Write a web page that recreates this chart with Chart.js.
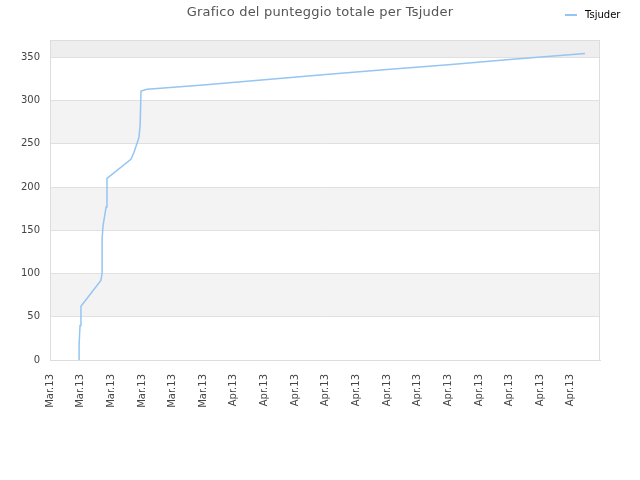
<!DOCTYPE html>
<html>
<head>
<meta charset="utf-8">
<script src="https://cdn.jsdelivr.net/npm/chart.js@4/dist/chart.umd.min.js"></script>
<style>
  body { margin: 0; background: #fff; }
  #wrap { position: relative; width: 640px; height: 480px; font-family: "DejaVu Sans", sans-serif; }
  #title { position: absolute; left: 0; top: 4px; width: 640px; text-align: center; font-size: 13px; color: #555; letter-spacing: 0.2px; }
  #legend { position: absolute; left: 565px; top: 9px; font-size: 10px; color: #000; }
  #legend span.sw { display: inline-block; width: 12px; height: 2px; background: #95c5f3; vertical-align: middle; margin-right: 8px; }
</style>
</head>
<body>
<div id="wrap">
  <canvas id="chart" width="640" height="480"></canvas>
  <div id="title">Grafico del punteggio totale per Tsjuder</div>
  <div id="legend"><span class="sw"></span>Tsjuder</div>
</div>
<script>
// tick labels along the date axis
var xLabels = ['Mar.13', 'Mar.13', 'Mar.13', 'Mar.13', 'Mar.13', 'Mar.13',
               'Apr.13', 'Apr.13', 'Apr.13', 'Apr.13', 'Apr.13', 'Apr.13',
               'Apr.13', 'Apr.13', 'Apr.13', 'Apr.13', 'Apr.13', 'Apr.13'];
var seriesName = 'Tsjuder';
// position of each point along the date axis (in tick steps) and total score
var pointPos = [0.95, 0.95, 0.98, 1.01, 1.66, 1.70, 1.70, 1.73, 1.80, 1.83, 1.86,
                2.64, 2.74, 2.90, 2.94, 2.97, 3.17, 5, 7, 9, 11, 13, 15, 17.46];
var scores   = [0, 18, 40, 62, 92, 100, 140, 155, 170, 177, 210,
                232, 240, 257, 270, 311, 313, 318, 324, 330, 336, 341.5, 347.5, 354.5];

var points = pointPos.map(function (p, i) { return { x: p, y: scores[i] }; });

var bands = {
    id: 'bands',
    beforeDraw: function (chart) {
        var ctx = chart.ctx, a = chart.chartArea, y = chart.scales.y;
        ctx.save();
        [[50, 100], [150, 200], [250, 300]].forEach(function (b) {
            ctx.fillStyle = '#f3f3f3';
            ctx.fillRect(a.left, y.getPixelForValue(b[1]), a.right - a.left, y.getPixelForValue(b[0]) - y.getPixelForValue(b[1]));
        });
        ctx.fillStyle = '#eeeeee';
        ctx.fillRect(a.left, a.top, a.right - a.left, y.getPixelForValue(350) - a.top);
        ctx.restore();
    },
    afterDraw: function (chart) {
        var ctx = chart.ctx, a = chart.chartArea;
        ctx.save();
        ctx.strokeStyle = '#dddddd';
        ctx.lineWidth = 1;
        ctx.strokeRect(a.left + 0.5, a.top + 0.5, a.right - a.left - 1, a.bottom - a.top);
        ctx.restore();
    }
};

var tickFont = { family: 'DejaVu Sans', size: 10 };

new Chart(document.getElementById('chart').getContext('2d'), {
    type: 'line',
    data: {
        datasets: [{
            label: seriesName,
            data: points,
            borderColor: '#95c5f3',
            borderWidth: 1.5,
            pointRadius: 0,
            tension: 0,
            fill: false
        }]
    },
    options: {
        responsive: false,
        animation: false,
        devicePixelRatio: 1,
        layout: { padding: { top: 40, right: 40, left: 0, bottom: 0 } },
        plugins: { legend: { display: false }, title: { display: false }, tooltip: { enabled: false } },
        scales: {
            x: {
                type: 'linear',
                min: 0,
                max: 17.95,
                afterFit: function (s) { s.height = 120; },
                grid: { display: false, drawTicks: false },
                border: { color: '#dddddd' },
                ticks: {
                    stepSize: 1,
                    includeBounds: false,
                    autoSkip: false,
                    maxRotation: 90,
                    minRotation: 90,
                    padding: 14,
                    color: '#444',
                    font: tickFont,
                    callback: function (v) { return Number.isInteger(v) && xLabels[v] ? xLabels[v] : ''; }
                }
            },
            y: {
                min: 0,
                max: 370,
                afterFit: function (s) { s.width = 50; },
                grid: { color: '#e0e0e0', drawTicks: false },
                border: { color: '#dddddd' },
                ticks: { stepSize: 50, includeBounds: false, padding: 10, color: '#444', font: tickFont }
            }
        }
    },
    plugins: [bands]
});
</script>
</body>
</html>
